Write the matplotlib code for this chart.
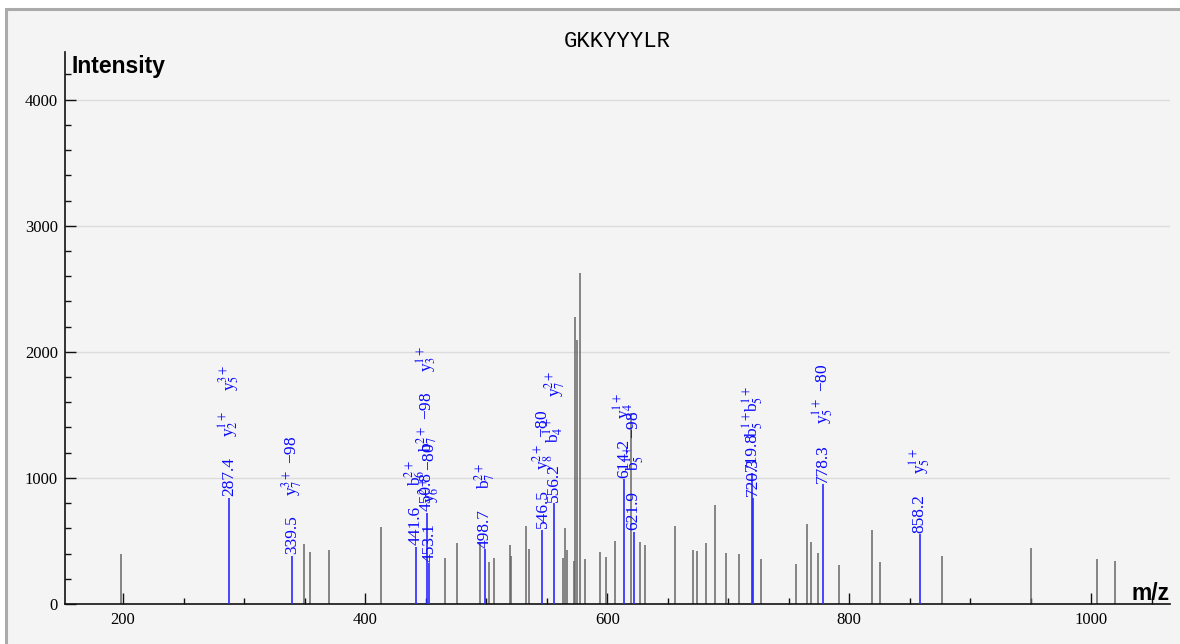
import matplotlib
matplotlib.use("Agg")
import matplotlib.pyplot as plt
from matplotlib.patches import Rectangle
from matplotlib.ticker import MultipleLocator

# ---------------- data ----------------
title = "GKKYYYLR"

# unannotated peaks (m/z, intensity)
gray_mz = [198.0, 349.4, 354.1, 370.3, 413.0, 466.2, 475.6, 494.9, 502.3, 506.2,
           519.4, 520.8, 533.2, 535.4, 563.7, 565.4, 566.8, 572.3, 573.1, 575.0,
           577.3, 581.4, 594.4, 599.3, 606.2, 619.3, 626.9, 631.6, 655.8, 671.2,
           674.0, 681.4, 689.1, 697.9, 709.2, 726.9, 756.0, 765.4, 768.2, 774.5,
           791.8, 819.1, 825.5, 876.7, 950.0, 1004.5, 1019.7]
gray_int = [396, 476, 412, 428, 613, 364, 486, 494, 333, 362,
            468, 381, 619, 436, 362, 600, 428, 341, 2279, 2094,
            2628, 354, 410, 370, 497, 1515, 489, 468, 620, 428,
            423, 481, 783, 404, 397, 357, 317, 637, 489, 402,
            309, 587, 335, 383, 442, 357, 341]

# annotated peaks
ann_mz = [287.4, 339.5, 441.6, 450.8, 453.1, 498.7, 546.5, 556.2,
          614.2, 621.9, 719.8, 720.3, 778.3, 858.2]
ann_int = [843, 381, 455, 724, 325, 436, 587, 798,
           989, 574, 1040, 843, 949, 555]
ann_ions = [
    ["y$_2^{1+}$", "y$_5^{3+}$"],
    ["y$_7^{3+}$ \u221298"],
    ["b$_6^{2+}$"],
    ["b$_7^{2+}$ \u221298", "y$_3^{1+}$"],
    ["y$_6^{2+}$ \u221280"],
    ["b$_7^{2+}$"],
    ["y$_8^{2+}$ \u221280"],
    ["b$_4^{1+}$", "y$_7^{2+}$"],
    ["y$_4^{1+}$"],
    ["b$_5^{1+}$ \u221298"],
    ["b$_5^{1+}$"],
    ["b$_5^{1+}$"],
    ["y$_5^{1+}$ \u221280"],
    ["y$_5^{1+}$"],
]

x_major = [200, 400, 600, 800, 1000]
y_major = [0, 1000, 2000, 3000, 4000]

# ---------------- style ----------------
plt.rcParams["font.family"] = ["Liberation Serif", "DejaVu Serif"]
plt.rcParams["mathtext.fontset"] = "stix"

DPI = 100
W, H = 1180, 644
fig = plt.figure(figsize=(W / DPI, H / DPI), dpi=DPI, facecolor="white")

bg = "#f4f4f4"
frame = Rectangle((6 / W, -0.1), 1.2, 1 - 9 / H + 0.1,
                  transform=fig.transFigure, facecolor=bg,
                  edgecolor="#aaaaaa", lw=2.2, zorder=-10)
fig.patches.append(frame)

left, right, bottom, top = 65 / W, 1170 / W, 1 - 604 / H, 1 - 52 / H
ax = fig.add_axes([left, bottom, right - left, top - bottom])
ax.set_zorder(1)
ax.set_facecolor(bg)
ax.set_xlim(152, 1065)
ax.set_ylim(0, 4378)

for s in ["top", "right"]:
    ax.spines[s].set_visible(False)
for s in ["left", "bottom"]:
    ax.spines[s].set_linewidth(1.2)
    ax.spines[s].set_color("#111111")

ax.set_xticks(x_major)
ax.set_yticks(y_major)
ax.xaxis.set_minor_locator(MultipleLocator(50))
ax.yaxis.set_minor_locator(MultipleLocator(200))
ax.tick_params(which="major", direction="in", length=8, width=1.0,
               labelsize=12, color="#111111")
ax.tick_params(which="minor", direction="in", length=4.3, width=1.0,
               color="#111111")
ax.tick_params(axis="x", which="major", pad=6)
ax.tick_params(axis="y", which="major", pad=5)

ax.yaxis.grid(True, which="major", color="#dcdcdc", lw=1.0)
ax.set_axisbelow(True)

# peaks
ax.vlines(gray_mz, 0, gray_int, colors="#666666", lw=1.1, zorder=2)
ax.vlines(ann_mz, 0, ann_int, colors="#2a2aff", lw=1.2, zorder=3)

ax.set_title(title, family="Liberation Mono", fontsize=16, pad=3)
ax.text(0.006, 0.962, "Intensity", transform=ax.transAxes,
        family="Liberation Sans", fontweight="bold", fontsize=16.5,
        ha="left", va="baseline")
ax.text(1.0, 0.008, "m/z", transform=ax.transAxes,
        family="Liberation Sans", fontweight="bold", fontsize=16.5,
        ha="right", va="baseline")

# labels stacked above peaks
fig.canvas.draw()
renderer = fig.canvas.get_renderer()
gap = 20
blue = "#0a0aff"
for mz, inten, ions in zip(ann_mz, ann_int, ann_ions):
    offset = 1.5
    for part in [f"{mz:.1f}"] + ions:
        t = ax.annotate(part, xy=(mz, inten), xytext=(0, offset * 72 / DPI),
                        textcoords="offset points", rotation=90,
                        ha="center", va="bottom", color=blue, fontsize=12.5,
                        zorder=4)
        bb = t.get_window_extent(renderer)
        offset += bb.height + gap

fig.savefig("out.png", dpi=DPI, facecolor="white")
